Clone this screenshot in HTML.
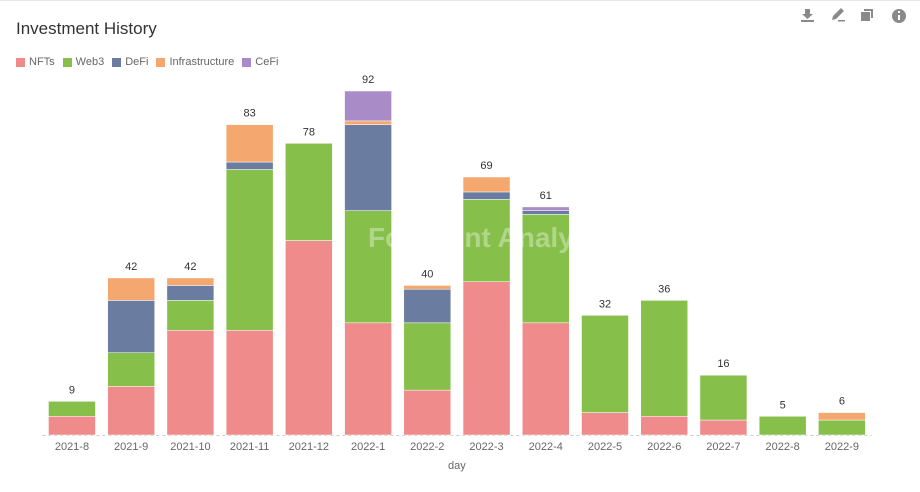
<!DOCTYPE html>
<html><head><meta charset="utf-8"><style>
body{margin:0;width:920px;height:492px;background:#fff;font-family:"Liberation Sans",sans-serif;overflow:hidden;position:relative}
.title{position:absolute;left:16px;top:19px;font-size:17px;color:#333}
.legend{position:absolute;left:16px;top:56px;font-size:11px;color:#666;display:flex;gap:8px}
.legend span{display:flex;align-items:center}
.legend i{display:inline-block;width:9px;height:9px;margin-right:4px}
.topline{position:absolute;left:0;top:0;width:920px;height:1px;background:#e6e6e6}
</style></head><body>
<div class="topline"></div>
<div class="title">Investment History</div>
<div class="legend">
<span><i style="background:#ef8b8b"></i>NFTs</span>
<span><i style="background:#87bf4b"></i>Web3</span>
<span><i style="background:#6a7c9f"></i>DeFi</span>
<span><i style="background:#f4a76f"></i>Infrastructure</span>
<span><i style="background:#a88bc7"></i>CeFi</span>
</div>
<svg width="920" height="492" style="position:absolute;left:0;top:0" id="chart">
<g fill="#8a8a8a">
<g><rect x="801" y="20" width="13" height="2"/><path d="M805 9h5v5h3l-5.5 5-5.5-5h3z"/></g>
<g><path d="M832 20l1-4 8-8 3 3-8 8z"/><rect x="838" y="20" width="7" height="1.5"/></g>
<g><rect x="861" y="12" width="9" height="9"/><path d="M864 9h9v9h-2v-7h-7z"/></g>
<g><circle cx="899" cy="16" r="7"/><rect x="898" y="15" width="2" height="5" fill="#fff"/><rect x="898" y="11" width="2" height="2" fill="#fff"/></g>
</g>
</svg>
<script>
const categories=["2021-8","2021-9","2021-10","2021-11","2021-12","2022-1","2022-2","2022-3","2022-4","2022-5","2022-6","2022-7","2022-8","2022-9"];
const nfts=[5,13,28,28,52,30,12,41,30,6,5,4,0,0];
const web3=[4,9,8,43,26,30,18,22,29,26,31,12,5,4];
const defi=[0,14,4,2,0,23,9,2,1,0,0,0,0,0];
const infra=[0,6,2,10,0,1,1,4,0,0,0,0,0,2];
const cefi=[0,0,0,0,0,8,0,0,1,0,0,0,0,0];
const seriesNames=["NFTs","Web3","DeFi","Infrastructure","CeFi"];
const colors=["#ef8b8b","#87bf4b","#6a7c9f","#f4a76f","#a88bc7"];
const series=[nfts,web3,defi,infra,cefi];
const svg=document.getElementById('chart');const NS="http://www.w3.org/2000/svg";
const x0=42.35,x1=871.5,y0=435,pxPer=344/92;
const band=(x1-x0)/categories.length,bw=47;
const xc=i=>x0+band*(i+0.5);
const y=v=>y0-v*pxPer;
function mk(t,a){const e=document.createElementNS(NS,t);for(const k in a)e.setAttribute(k,a[k]);svg.appendChild(e);return e;}
const ax=mk('line',{x1:x0,x2:x1,y1:y0+0.5,y2:y0+0.5,stroke:'#ccc','stroke-dasharray':'3,3'});


categories.forEach((c,i)=>{
 let acc=0;
 series.forEach((s,k)=>{
  const v=s[i];if(!v)return;
  const r=mk('rect',{x:xc(i)-bw/2,y:y(acc+v),width:bw,height:v*pxPer,fill:colors[k],stroke:'#fff','stroke-width':0.5});
  
  
  acc+=v;
 });
 const t=mk('text',{x:xc(i),y:y(acc)-8,'font-size':11,fill:'#333','text-anchor':'middle'});t.textContent=acc;
 
 
 const l=mk('text',{x:xc(i),y:450,'font-size':11,fill:'#666','text-anchor':'middle'});l.textContent=c;
 
 
});
const xt=mk('text',{x:(x0+x1)/2,y:469,'font-size':11,fill:'#666','text-anchor':'middle'});xt.textContent='day';


const wm=mk('text',{x:495,y:247,'font-size':28,'font-weight':'bold',fill:'#ffffff','fill-opacity':0.35,'text-anchor':'middle'});wm.textContent='Footprint Analytics';


</script>
</body></html>
